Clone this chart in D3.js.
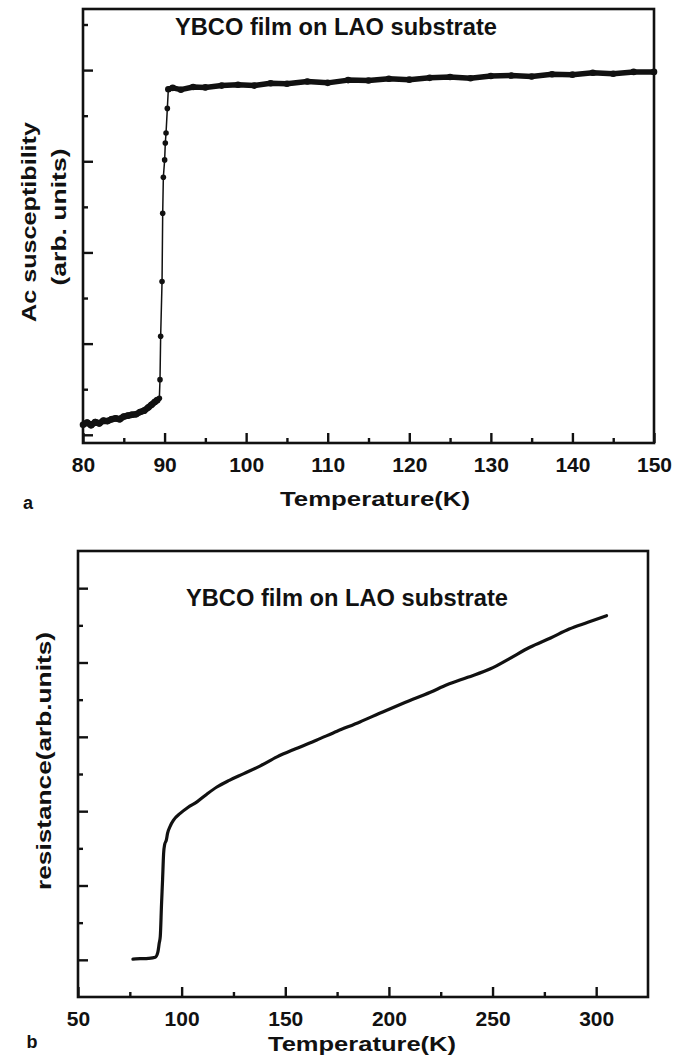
<!DOCTYPE html>
<html>
<head>
<meta charset="utf-8">
<script src="https://cdn.jsdelivr.net/npm/d3@7"></script>
<style>
  body { margin: 0; background: #fff; }
  svg { display: block; }
  text { font-family: "Liberation Sans", Arial, sans-serif; fill: #111; }
</style>
</head>
<body>
<svg id="fig" width="686" height="1058"></svg>
<script>
// panel a: ac susceptibility vs temperature (arb. units, y in tick steps)
const chiTemp = [80, 80.5, 81, 81.5, 82, 82.5, 83, 83.5, 84, 84.5, 85, 85.5, 86, 86.5, 87, 87.5, 88,
  88.4, 88.8, 89.1,
  89.36, 89.44, 89.52, 89.69, 89.77, 89.85, 90.01, 90.09, 90.18, 90.34, 90.46,
  91, 92, 93.5, 95, 97, 99, 101, 103, 105,
  107.5, 110, 112.5, 115, 117.5, 120, 122.5, 125, 127.5, 130, 132.5, 135, 137.5, 140, 142.5, 145, 147.5, 150]
const chiValue = [0.22, 0.27, 0.21, 0.28, 0.25, 0.31, 0.30, 0.34, 0.36, 0.34, 0.40, 0.42, 0.44, 0.45, 0.50, 0.53, 0.60,
  0.66, 0.72, 0.76,
  0.80, 1.21, 2.16, 3.36, 4.86, 5.65, 6.03, 6.40, 6.62, 7.16, 7.58,
  7.61, 7.57, 7.63, 7.62, 7.66, 7.68, 7.66, 7.71, 7.70,
  7.75, 7.72, 7.78, 7.77, 7.81, 7.79, 7.83, 7.85, 7.82, 7.87, 7.88, 7.86, 7.91, 7.90, 7.94, 7.92, 7.96, 7.96]
const chiXMajor = [80, 90, 100, 110, 120, 130, 140, 150]
const chiXMinor = [85, 95, 105, 115, 125, 135, 145]
const chiYMajor = [0, 2, 4, 6, 8]
const chiYMinor = [1, 3, 5, 7, 9]

// panel b: resistance vs temperature
const resTemp = [76.5, 80, 84, 87.3, 88.5, 89.2, 89.7, 90.3, 90.8, 91.3, 91.8, 92.6, 93.2, 94.5, 96.1,
  99.3, 103, 107.4, 112, 117, 123, 130, 138, 146, 155, 165, 175, 186, 197, 208,
  220, 228, 238, 249, 258, 268, 278, 287, 296, 305]
const resValue = [0.02, 0.03, 0.04, 0.07, 0.2, 0.45, 0.63, 1.5, 2.15, 2.86, 3.1, 3.22, 3.4, 3.6, 3.76,
  3.94, 4.1, 4.25, 4.45, 4.65, 4.83, 5.01, 5.22, 5.46, 5.68, 5.91, 6.15, 6.4, 6.67, 6.93,
  7.2, 7.4, 7.6, 7.83, 8.1, 8.41, 8.66, 8.9, 9.08, 9.26]
const resXMajor = [50, 100, 150, 200, 250, 300]
const resXMinor = [75, 125, 175, 225, 275]
const resYMajor = [0, 2, 4, 6, 8, 10]
const resYMinor = [1, 3, 5, 7, 9]

const svg = d3.select('#fig')

// draws frame, inward ticks and tick labels for one panel
let drawFrame = function (p) {
    let g = svg.append('g')

    g.append('g')
        .attr('transform', 'translate(0,' + p.bottom + ')')
        .call(d3.axisBottom(p.x).tickValues(p.xMajor).tickSize(-10).tickPadding(14))
    g.append('g')
        .attr('transform', 'translate(0,' + p.bottom + ')')
        .call(d3.axisBottom(p.x).tickValues(p.xMinor).tickSize(-5).tickFormat(''))
    g.append('g')
        .attr('transform', 'translate(' + p.left + ',0)')
        .call(d3.axisLeft(p.y).tickValues(p.yMajor).tickSize(-10).tickFormat(''))
    g.append('g')
        .attr('transform', 'translate(' + p.left + ',0)')
        .call(d3.axisLeft(p.y).tickValues(p.yMinor).tickSize(-5).tickFormat(''))

    g.selectAll('.domain').remove()
    g.selectAll('.tick line').attr('stroke', '#111').attr('stroke-width', 2.4)
    g.selectAll('.tick text')
        .style('font-family', '"Liberation Sans", Arial, sans-serif')
        .style('font-size', '21px')
        .style('font-weight', 'bold')
        .attr('fill', '#111')

    g.append('rect')
        .attr('x', p.left)
        .attr('y', p.top)
        .attr('width', p.right - p.left)
        .attr('height', p.bottom - p.top)
        .attr('fill', 'none')
        .attr('stroke', '#111')
        .attr('stroke-width', 2.6)
}

let addText = function (str, x, y, opts) {
    let t = svg.append('text')
        .attr('x', x)
        .attr('y', y)
        .attr('text-anchor', 'middle')
        .attr('dominant-baseline', 'central')
        .style('font-size', opts.size + 'px')
        .style('font-weight', opts.weight || 'bold')
        .text(str)
    if (opts.len) t.attr('textLength', opts.len).attr('lengthAdjust', 'spacingAndGlyphs')
    if (opts.rotate) t.attr('transform', 'rotate(-90,' + x + ',' + y + ')')
    return t
}

// ---------- panel a ----------
const pa = { left: 83, right: 654, top: 9, bottom: 443,
    xMajor: chiXMajor, xMinor: chiXMinor, yMajor: chiYMajor, yMinor: chiYMinor }
pa.x = d3.scaleLinear().domain([80, 150]).range([pa.left, pa.right])
pa.y = d3.scaleLinear().domain([-0.18, 9.34]).range([pa.bottom, pa.top])

drawFrame(pa)

const chiData = chiTemp.map((t, i) => ({ t: t, v: chiValue[i] }))
const chiLine = d3.line().x(d => pa.x(d.t)).y(d => pa.y(d.v))

// thin connecting line through the whole run
svg.append('path')
    .datum(chiData)
    .attr('d', chiLine)
    .attr('fill', 'none')
    .attr('stroke', '#111')
    .attr('stroke-width', 1.5)

// the two plateaus look like a thick band of merged points
svg.append('path')
    .datum(chiData.filter(d => d.t <= 89.1))
    .attr('d', chiLine)
    .attr('fill', 'none')
    .attr('stroke', '#111')
    .attr('stroke-width', 6.5)
    .attr('stroke-linejoin', 'round')
svg.append('path')
    .datum(chiData.filter(d => d.t >= 90.46))
    .attr('d', chiLine)
    .attr('fill', 'none')
    .attr('stroke', '#111')
    .attr('stroke-width', 5.5)
    .attr('stroke-linejoin', 'round')

svg.selectAll('circle.pt')
    .data(chiData)
    .enter().append('circle')
    .attr('class', 'pt')
    .attr('cx', d => pa.x(d.t))
    .attr('cy', d => pa.y(d.v))
    .attr('r', d => (d.t > 89.1 && d.t < 90.46) ? 2.8 : 3.3)
    .attr('fill', '#111')

addText('YBCO film on LAO substrate', 336, 27, { size: 23, len: 322 })
addText('Temperature(K)', 375, 498, { size: 21, len: 190 })
addText('Ac susceptibility', 28, 222, { size: 21, len: 200, rotate: true })
addText('(arb. units)', 58, 217, { size: 21, len: 137, rotate: true })
addText('a', 28, 503, { size: 18 })

// ---------- panel b ----------
const pb = { left: 78, right: 648, top: 551, bottom: 997,
    xMajor: resXMajor, xMinor: resXMinor, yMajor: resYMajor, yMinor: resYMinor }
pb.x = d3.scaleLinear().domain([50, 325]).range([pb.left, pb.right])
pb.y = d3.scaleLinear().domain([-1, 11]).range([pb.bottom, pb.top])

drawFrame(pb)

const resData = resTemp.map((t, i) => ({ t: t, v: resValue[i] }))
svg.append('path')
    .datum(resData)
    .attr('d', d3.line().curve(d3.curveMonotoneX).x(d => pb.x(d.t)).y(d => pb.y(d.v)))
    .attr('fill', 'none')
    .attr('stroke', '#111')
    .attr('stroke-width', 3.2)
    .attr('stroke-linejoin', 'round')
    .attr('stroke-linecap', 'round')

addText('YBCO film on LAO substrate', 347, 598, { size: 23, len: 322 })
addText('Temperature(K)', 362, 1043, { size: 21, len: 188 })
addText('resistance(arb.units)', 43, 761, { size: 21, len: 258, rotate: true })
addText('b', 32, 1042, { size: 18 })
</script>
</body>
</html>
